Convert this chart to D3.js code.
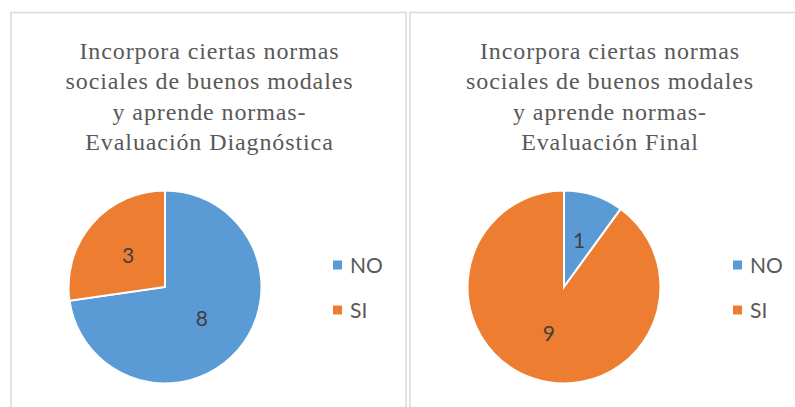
<!DOCTYPE html>
<html>
<head>
<meta charset="utf-8">
<script src="https://cdn.jsdelivr.net/npm/d3@7"></script>
<style>
  body { margin: 0; background: #fff; }
  svg { display: block; }
</style>
</head>
<body>
<svg id="chart" width="795" height="407"></svg>
<script>
// categories and values
const categories = ['NO', 'SI'];
const diagnosticValues = [8, 3];
const finalValues = [1, 9];
const titleDiagnostic = ['Incorpora ciertas normas', 'sociales de buenos modales', 'y aprende normas-', 'Evaluación Diagnóstica'];
const titleFinal = ['Incorpora ciertas normas', 'sociales de buenos modales', 'y aprende normas-', 'Evaluación Final'];

const colors = d3.scaleOrdinal()
    .domain(categories)
    .range(['#5b9bd5', '#ed7d31']);

const svg = d3.select('#chart');

// one panel per evaluation, Excel style
const panels = [
    {x: 11, w: 395, values: diagnosticValues, title: titleDiagnostic},
    {x: 410, w: 398, values: finalValues, title: titleFinal}
];

const pie = d3.pie().sort(null).value(d => d.value);
const radius = 96.5;
const arc = d3.arc().innerRadius(0).outerRadius(radius);
const labelArc = d3.arc().innerRadius(0).outerRadius(radius * 1.01);

panels.forEach(p => {
    const g = svg.append('g').attr('transform', `translate(${p.x},0)`);

    g.append('rect')
        .attr('x', 0).attr('y', 12.5)
        .attr('width', p.w).attr('height', 420)
        .attr('fill', '#fff')
        .attr('stroke', '#d9d9d9')
        .attr('stroke-width', 1.5);

    g.append('text')
        .attr('text-anchor', 'middle')
        .attr('font-family', '"Liberation Serif", "Times New Roman", serif')
        .attr('font-size', 24)
        .attr('letter-spacing', 0.9)
        .attr('fill', '#595959')
        .selectAll('tspan')
        .data(p.title)
        .enter().append('tspan')
        .attr('x', p.w / 2 + 1)
        .attr('y', (d, i) => 59 + i * 30.3)
        .text(d => d);

    const data = categories.map((c, i) => ({key: c, value: p.values[i]}));
    const pieG = g.append('g').attr('transform', 'translate(154,287)');

    pieG.selectAll('path')
        .data(pie(data))
        .enter().append('path')
        .attr('d', arc)
        .attr('fill', d => colors(d.data.key))
        .attr('stroke', '#fff')
        .attr('stroke-width', 2);

    pieG.selectAll('text')
        .data(pie(data))
        .enter().append('text')
        .attr('transform', d => `translate(${labelArc.centroid(d)})`)
        .attr('text-anchor', 'middle')
        .attr('dy', '0.36em')
        .attr('font-family', 'Lato, "Open Sans", sans-serif')
        .attr('font-size', 21)
        .attr('fill', '#404040')
        .text(d => d.value);

    const legend = g.append('g').attr('transform', `translate(${p.x === 11 ? 322 : 323},0)`);
    const items = legend.selectAll('g')
        .data(categories)
        .enter().append('g')
        .attr('transform', (d, i) => `translate(0,${265 + i * 45})`);
    items.append('rect')
        .attr('x', 0).attr('y', -4.5)
        .attr('width', 9).attr('height', 9)
        .attr('fill', d => colors(d));
    items.append('text')
        .attr('x', 17)
        .attr('dy', '0.36em')
        .attr('font-family', 'Lato, "Open Sans", sans-serif')
        .attr('font-size', 21)
        .attr('fill', '#595959')
        .text(d => d);
});
</script>
</body>
</html>
